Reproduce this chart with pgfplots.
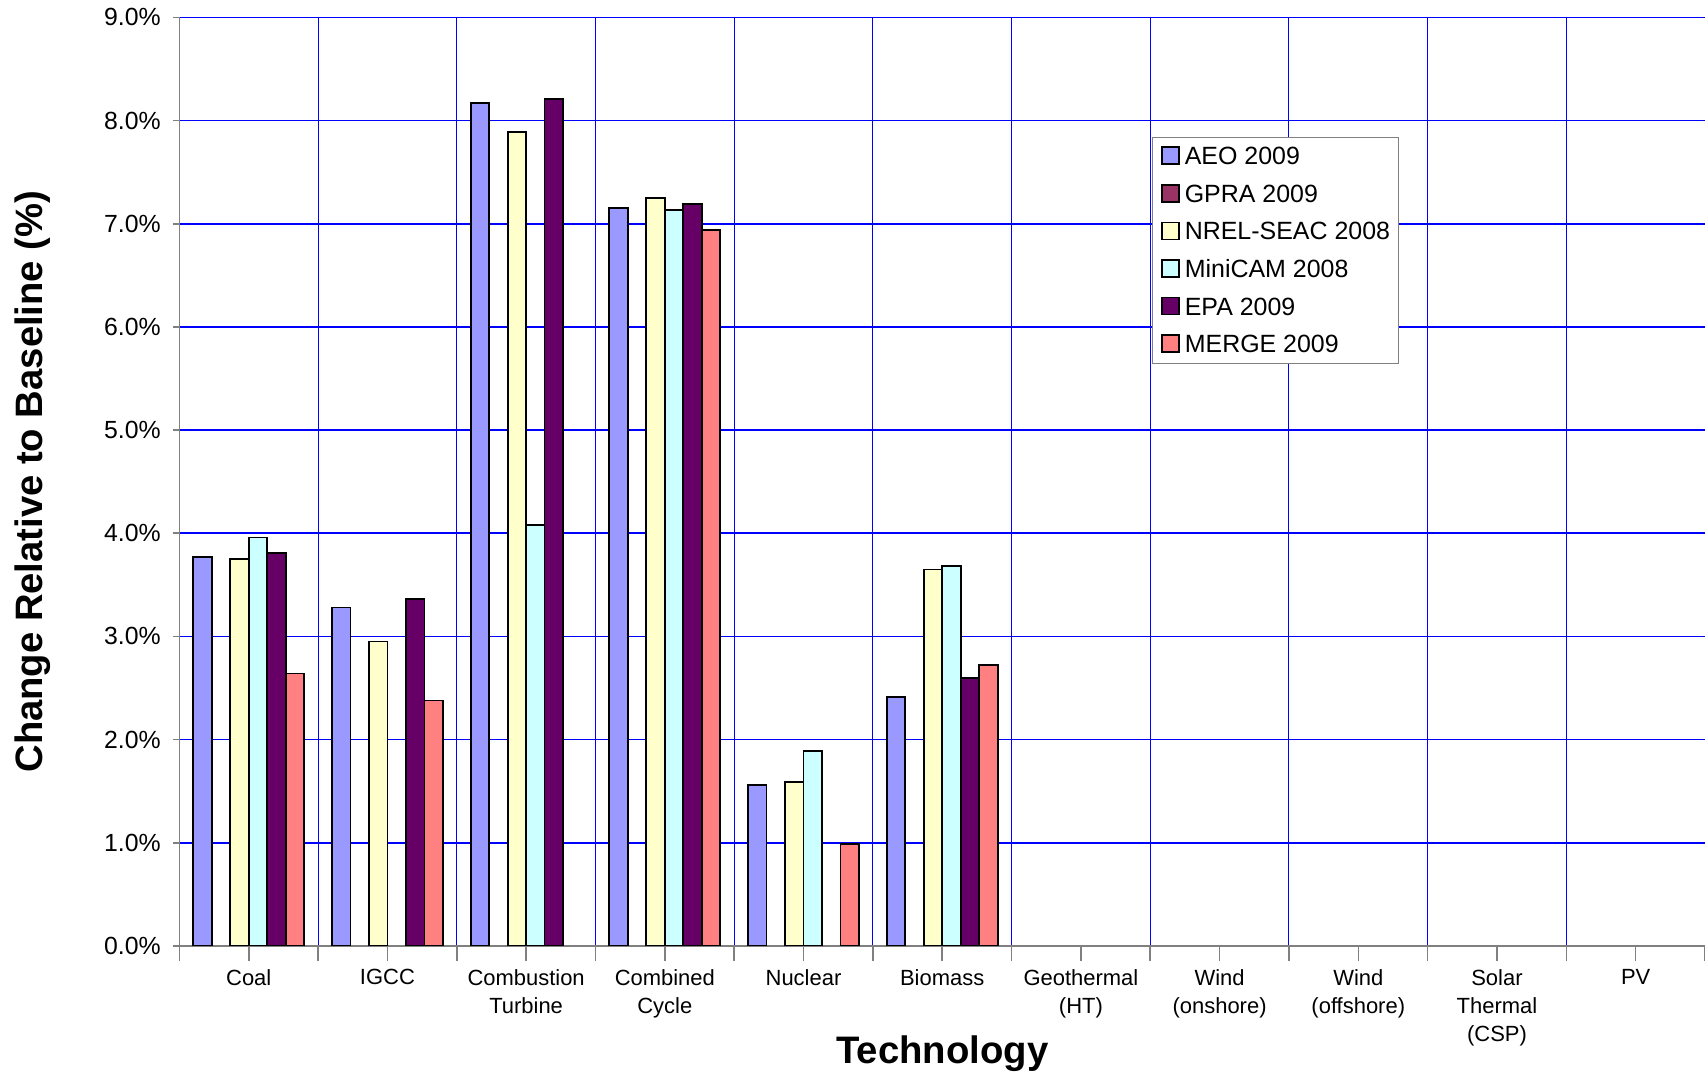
\documentclass[border=0pt]{standalone}
\usepackage{fontspec}
\setmainfont{Liberation Sans}
\usepackage{pgfplots}
\pgfplotsset{compat=1.18}
\definecolor{aeo}{HTML}{9999FF}
\definecolor{gpra}{HTML}{993366}
\definecolor{nrel}{HTML}{FFFFCC}
\definecolor{minicam}{HTML}{CCFFFF}
\definecolor{epa}{HTML}{660066}
\definecolor{merge}{HTML}{FF8080}
\definecolor{axgray}{HTML}{808080}
\pgfplotsset{
  sq legend/.style={legend image code/.code={\draw[##1,draw=black,line width=0.45pt] (0mm,{0.3pt-0.85mm}) rectangle (1.7mm,{0.3pt+0.85mm});}},
}
\begin{document}
\begin{tikzpicture}
\begin{axis}[
  width=152.56mm, height=92.86mm, scale only axis,
  xmin=-0.5, xmax=10.5, ymin=0, ymax=9,
  axis x line=bottom, axis y line=left,
  axis line style={-, draw=axgray, line width=0.45pt},
  /pgf/number format/assume math mode=true,
  ybar, bar width=0.13333,
  every axis plot post/.append style={draw=black, line width=0.5pt, sq legend},
  tick align=outside,
  major tick length=4.3pt,
  xtick={-0.5,0.5,...,10.5},
  xticklabels={},
  xtick style={draw=axgray, line width=0.45pt},
  ytick={0,1,...,9},
  ytick style={draw=axgray, line width=0.45pt, /pgfplots/major tick length=1.9pt},
  yticklabel={\pgfmathprintnumber[fixed,fixed zerofill,precision=1]{\tick}\%},
  yticklabel style={font=\fontsize{7.06}{8}\selectfont, inner sep=0pt, anchor=east, xshift=-0.8pt},
  xmajorgrids, ymajorgrids,
  x grid style={draw=blue, line width=0.3pt},
  y grid style={draw=blue, line width=0.45pt},
  extra x ticks={0,1,...,10},
  extra x tick labels={Coal,IGCC,{Combustion\\Turbine},{Combined\\Cycle},Nuclear,Biomass,{Geothermal\\(HT)},{Wind\\(onshore)},{Wind\\(offshore)},{Solar\\Thermal\\(CSP)},PV},
  extra x tick style={grid=none, tick style={draw=none}},
  xticklabel style={font=\fontsize{6.25}{7.95}\selectfont, align=center, inner sep=0pt, anchor=north, yshift=-2.2pt},
  xlabel={Technology},
  xlabel style={font=\fontsize{10.9}{12}\selectfont\bfseries, at={(axis description cs:0.5,0)}, anchor=base, yshift=-33.3pt},
  ylabel={Change Relative to Baseline (\%)},
  ylabel style={font=\fontsize{10.87}{12}\selectfont\bfseries, at={(axis description cs:-0.0962,0.5)}, anchor=center},
  legend style={at={(rel axis cs:0.6377,0.8712)}, anchor=north west, draw=axgray, line width=0.3pt,
    font=\fontsize{7.1}{8}\selectfont, inner xsep=2.4pt, inner ysep=1.4pt,
    nodes={inner sep=0pt, text height=6.3pt, text depth=1.8pt}, row sep=2.6pt, column sep=0.5mm},
  legend cell align=left,
]
\addplot[fill=aeo, bar shift=-0.33333] coordinates {(0,3.77) (1,3.28) (2,8.17) (3,7.155) (4,1.56) (5,2.41)};
\addlegendentry{AEO 2009}
\addlegendimage{fill=gpra, sq legend}
\addlegendentry{GPRA 2009}
\addplot[fill=nrel, bar shift=-0.06667] coordinates {(0,3.75) (1,2.95) (2,7.89) (3,7.25) (4,1.59) (5,3.65)};
\addlegendentry{NREL-SEAC 2008}
\addplot[fill=minicam, bar shift=0.06667] coordinates {(0,3.96) (2,4.08) (3,7.13) (4,1.89) (5,3.68)};
\addlegendentry{MiniCAM 2008}
\addplot[fill=epa, bar shift=0.2] coordinates {(0,3.81) (1,3.36) (2,8.21) (3,7.19) (5,2.60)};
\addlegendentry{EPA 2009}
\addplot[fill=merge, bar shift=0.33333] coordinates {(0,2.64) (1,2.38) (3,6.94) (4,0.99) (5,2.72)};
\addlegendentry{MERGE 2009}
\coordinate (bbl) at (rel axis cs:-0.11759,-0.13784);
\coordinate (btr) at (rel axis cs:1,1.01874);
\end{axis}
\pgfresetboundingbox
\path[use as bounding box] (bbl) rectangle (btr);
\end{tikzpicture}
\end{document}
